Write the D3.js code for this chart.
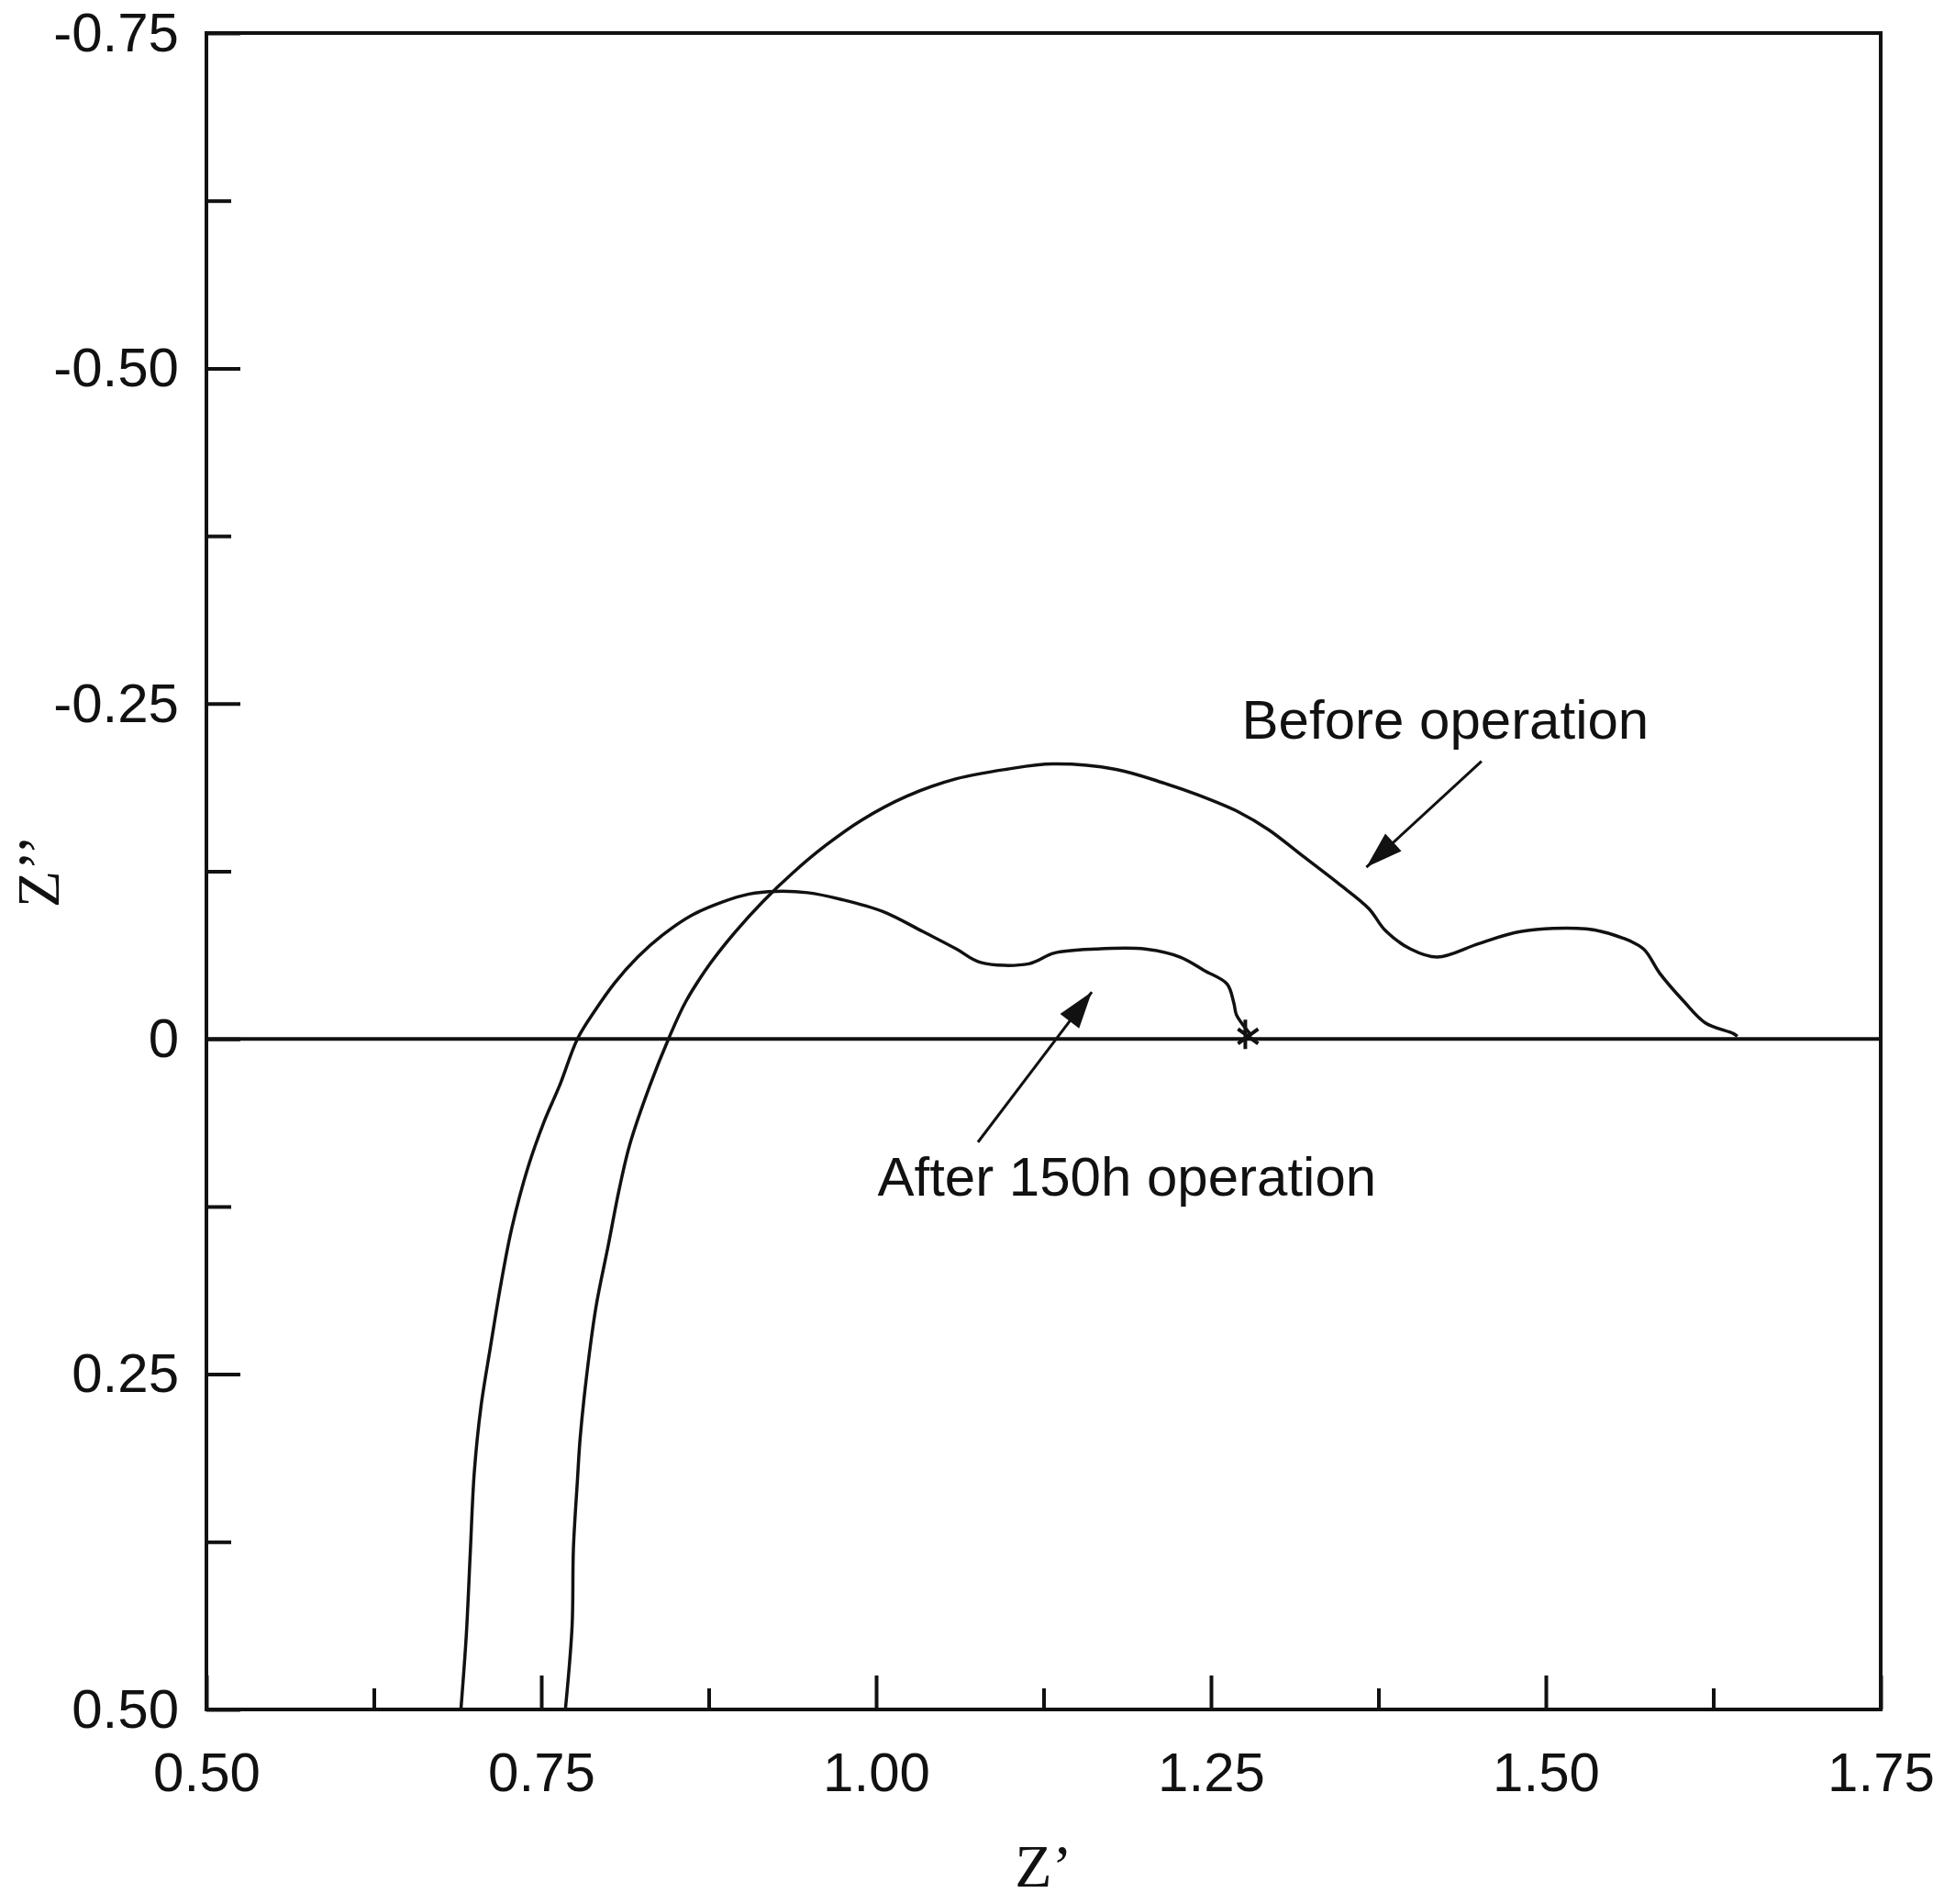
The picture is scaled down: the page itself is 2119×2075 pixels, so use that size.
<!DOCTYPE html>
<html>
<head>
<meta charset="utf-8">
<script src="https://cdn.jsdelivr.net/npm/d3@7"></script>
<style>
  html, body { margin: 0; padding: 0; background: #fff; }
  svg { display: block; }
</style>
</head>
<body>
<svg id="chart" width="2119" height="2075"></svg>
<script>
// ---------- data ----------
const xMajorTicks = [0.50, 0.75, 1.00, 1.25, 1.50, 1.75];
const xMajorLabels = ["0.50", "0.75", "1.00", "1.25", "1.50", "1.75"];
const xMinorTicks = [0.625, 0.875, 1.125, 1.375, 1.625];
const yMajorTicks = [-0.75, -0.50, -0.25, 0, 0.25, 0.50];
const yMajorLabels = ["-0.75", "-0.50", "-0.25", "0", "0.25", "0.50"];
const yMinorTicks = [-0.625, -0.375, -0.125, 0.125, 0.375];

// "Before operation" curve: Z' and Z'' values
const beforeZre = [0.768, 0.773, 0.774, 0.777, 0.779, 0.784, 0.791, 0.800, 0.808, 0.816,
  0.831, 0.845, 0.858, 0.876, 0.895, 0.916, 0.938, 0.962, 0.989, 1.023,
  1.060, 1.097, 1.132, 1.179, 1.214, 1.240, 1.271, 1.293, 1.319, 1.345,
  1.368, 1.380, 1.399, 1.419, 1.450, 1.481, 1.530, 1.558, 1.573, 1.585,
  1.603, 1.619, 1.640, 1.643];
const beforeZim = [0.500, 0.438, 0.380, 0.329, 0.298, 0.250, 0.199, 0.154, 0.113, 0.079,
  0.035, 0.000, -0.028, -0.056, -0.080, -0.103, -0.124, -0.144, -0.163, -0.181,
  -0.194, -0.201, -0.205, -0.201, -0.191, -0.182, -0.169, -0.156, -0.136, -0.116,
  -0.097, -0.081, -0.067, -0.061, -0.071, -0.080, -0.082, -0.075, -0.067, -0.049,
  -0.028, -0.012, -0.004, -0.002];

// "After 150h operation" curve
const afterZre = [0.690, 0.694, 0.697, 0.700, 0.705, 0.712, 0.720, 0.728, 0.740, 0.752,
  0.764, 0.777, 0.790, 0.805, 0.822, 0.840, 0.862, 0.885, 0.905, 0.925,
  0.949, 0.974, 1.005, 1.035, 1.060, 1.078, 1.114, 1.133, 1.164, 1.201,
  1.227, 1.245, 1.262, 1.267, 1.269, 1.275, 1.279];
const afterZim = [0.500, 0.445, 0.383, 0.323, 0.274, 0.230, 0.182, 0.141, 0.096, 0.062,
  0.034, 0.000, -0.021, -0.042, -0.061, -0.077, -0.092, -0.102, -0.108, -0.110,
  -0.109, -0.104, -0.095, -0.080, -0.067, -0.057, -0.056, -0.064, -0.067, -0.067,
  -0.061, -0.051, -0.041, -0.027, -0.018, -0.009, -0.004];

// annotations (data coordinates)
const annotationTexts = ["Before operation", "After 150h operation"];
const annotationX = [1.273, 1.001];
const annotationY = [-0.224, 0.117];
const arrowFromX = [1.452, 1.076];
const arrowFromY = [-0.207, 0.077];
const arrowToX = [1.366, 1.161];
const arrowToY = [-0.128, -0.035];
const endMarkerX = [1.277];
const endMarkerY = [-0.002];

// ---------- layout ----------
const svg = d3.select("#chart");
const ink = "#111";
const x = d3.scaleLinear().domain([0.5, 1.75]).range([225, 2050]);
const y = d3.scaleLinear().domain([-0.75, 0.5]).range([36, 1863]);

const defs = svg.append("defs");
defs.append("marker")
  .attr("id", "arrowhead")
  .attr("markerUnits", "userSpaceOnUse")
  .attr("viewBox", "0 0 40 30")
  .attr("refX", 40).attr("refY", 15)
  .attr("markerWidth", 42).attr("markerHeight", 30)
  .attr("orient", "auto")
  .append("path")
  .attr("d", "M0,2 L40,15 L0,28 Z")
  .attr("fill", ink);

// zero line
svg.append("line")
  .attr("x1", x(0.5)).attr("x2", x(1.75))
  .attr("y1", y(0)).attr("y2", y(0))
  .attr("stroke", ink).attr("stroke-width", 4);

// curves
const line = d3.line()
  .x(d => x(d[0])).y(d => y(d[1]))
  .curve(d3.curveCatmullRom.alpha(0.5));

const beforePts = beforeZre.map((v, i) => [v, beforeZim[i]]);
const afterPts = afterZre.map((v, i) => [v, afterZim[i]]);

svg.append("path").datum(beforePts)
  .attr("d", line).attr("fill", "none")
  .attr("stroke", ink).attr("stroke-width", 3.5);
svg.append("path").datum(afterPts)
  .attr("d", line).attr("fill", "none")
  .attr("stroke", ink).attr("stroke-width", 3.5);

// end marker of the after-curve
endMarkerX.forEach((mx, i) => {
  const cx = x(mx), cy = y(endMarkerY[i]);
  svg.append("path")
    .attr("d", `M${cx - 2},${cy - 18} L${cx - 2},${cy + 14} M${cx - 10},${cy - 8} L${cx + 12},${cy + 8} M${cx - 10},${cy + 8} L${cx + 12},${cy - 8}`)
    .attr("stroke", ink).attr("stroke-width", 4).attr("fill", "none");
});

// arrows
arrowFromX.forEach((fx, i) => {
  svg.append("line")
    .attr("x1", x(fx)).attr("y1", y(arrowFromY[i]))
    .attr("x2", x(arrowToX[i])).attr("y2", y(arrowToY[i]))
    .attr("stroke", ink).attr("stroke-width", 3)
    .attr("marker-end", "url(#arrowhead)");
});

// annotation texts
annotationTexts.forEach((t, i) => {
  svg.append("text")
    .attr("x", x(annotationX[i])).attr("y", y(annotationY[i]))
    .attr("font-family", "'Liberation Sans', Arial, sans-serif")
    .attr("font-size", 60).attr("fill", ink)
    .text(t);
});

// axes
const fontSans = "'Liberation Sans', Arial, sans-serif";
function styleAxis(g) {
  g.select(".domain").remove();
  g.selectAll("line").attr("stroke", ink).attr("stroke-width", 4);
  g.selectAll("text").attr("font-family", fontSans).attr("font-size", 60).attr("fill", ink);
}

svg.append("g").attr("transform", `translate(0,${y(0.5)})`)
  .call(d3.axisBottom(x).tickValues(xMajorTicks)
    .tickFormat((d, i) => xMajorLabels[i]).tickSizeInner(-37).tickSizeOuter(0).tickPadding(46))
  .call(styleAxis);
svg.append("g").attr("transform", `translate(0,${y(0.5)})`)
  .call(d3.axisBottom(x).tickValues(xMinorTicks).tickFormat("").tickSizeInner(-23).tickSizeOuter(0))
  .call(styleAxis);

svg.append("g").attr("transform", `translate(${x(0.5)},0)`)
  .call(d3.axisLeft(y).tickValues(yMajorTicks)
    .tickFormat((d, i) => yMajorLabels[i]).tickSizeInner(-37).tickSizeOuter(0).tickPadding(30))
  .call(styleAxis);
svg.append("g").attr("transform", `translate(${x(0.5)},0)`)
  .call(d3.axisLeft(y).tickValues(yMinorTicks).tickFormat("").tickSizeInner(-27).tickSizeOuter(0))
  .call(styleAxis);

// frame
svg.append("rect")
  .attr("x", x(0.5)).attr("y", y(-0.75))
  .attr("width", x(1.75) - x(0.5)).attr("height", y(0.5) - y(-0.75))
  .attr("fill", "none").attr("stroke", ink).attr("stroke-width", 4);

// axis titles
svg.append("text")
  .attr("x", (x(0.5) + x(1.75)) / 2).attr("y", 2056)
  .attr("text-anchor", "middle")
  .attr("font-family", "'Liberation Serif', 'Times New Roman', serif")
  .attr("font-size", 66).attr("fill", ink)
  .text("Z\u2019");
svg.append("text")
  .attr("transform", `translate(64,${(y(-0.75) + y(0.5)) / 2}) rotate(-90)`)
  .attr("text-anchor", "middle")
  .attr("font-family", "'Liberation Serif', 'Times New Roman', serif")
  .attr("font-size", 66).attr("fill", ink)
  .text("Z\u2019\u2019");
</script>
</body>
</html>
